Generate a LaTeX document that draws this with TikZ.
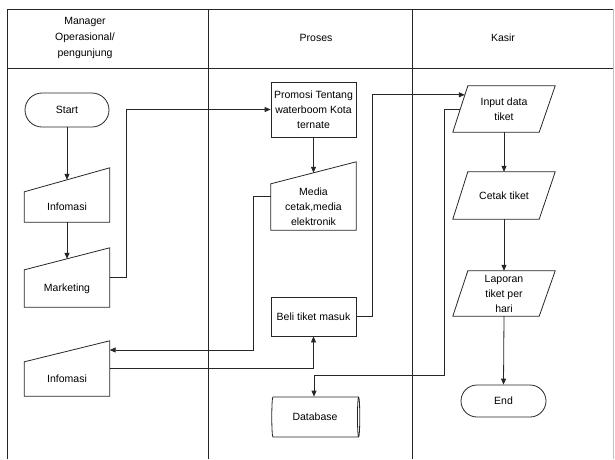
\documentclass[tikz,border=0pt]{standalone}
\usepackage{fontspec}
\setmainfont{Liberation Sans}
\usetikzlibrary{shapes.geometric,shapes.misc,calc,arrows.meta}
\begin{document}
\begin{tikzpicture}[x=1pt,y=-1pt,
  font=\fontsize{10.5}{15}\selectfont,
  ln/.style={line width=0.8pt,draw=black!85},
  arr/.style={ln,-{Triangle[length=6pt,width=5pt]}},
  term/.style={rounded rectangle,ln,minimum width=84pt,minimum height=34pt,inner sep=0pt},
  box/.style={rectangle,ln,minimum width=85pt,inner sep=0pt,align=center},
  mibox/.style={rectangle,minimum width=85pt,inner sep=0pt,align=center},
  pgbox/.style={rectangle,minimum width=102pt,inner sep=0pt,align=center},
]
\useasboundingbox (0,0) rectangle (615,459);
% swimlane frame
\draw[ln] (7,459) -- (7,9) -- (613,9);
\draw[ln] (7,68) -- (613,68);
\draw[ln] (208,9) -- (208,459);
\draw[ln] (412,9) -- (412,459);
\draw[line width=0.8pt,black!25] (613,9) -- (613,459);
% headers
\node[align=center,font=\fontsize{10.5}{16}\selectfont] (h1) at (85,38) {Manager\\Operasional/\\pengunjung};
\node (h2) at (316,38) {Proses};
\node (h3) at (503,38) {Kasir};
% nodes
\node[term] (start) at (67,110) {Start};
\node[mibox,minimum height=30pt] (inf1) at (67,207) {Infomasi};
\node[mibox,minimum height=37pt] (mkt) at (67,288.5) {Marketing};
\node[mibox,minimum height=34pt] (inf2) at (67,379) {Infomasi};
\node[box,minimum height=55pt] (prom) at (313.5,109.5) {Promosi Tentang\\waterboom Kota\\ternate};
\node[mibox,minimum height=46pt] (media) at (313.5,207) {Media\\cetak,media\\elektronik};
\node[box,minimum height=39pt] (beli) at (313.5,316.5) {Beli tiket masuk};
\node[cylinder,ln,aspect=0.3,minimum width=40pt,minimum height=88pt,inner sep=0pt] (db) at (315,417) {Database};
\node[pgbox,minimum height=46pt] (inp) at (504,109) {Input data\\tiket};
\node[pgbox,minimum height=47pt] (cetak) at (504,195.5) {Cetak tiket};
\node[pgbox,minimum height=45pt] (lap) at (504,293.5) {Laporan\\tiket per\\hari};
\node[term,minimum width=85pt,minimum height=32pt] (end) at (503.5,401) {End};
% manual input outlines
\draw[ln] (inf1.north west) -- ($(inf1.north east)+(0,-24)$) -- (inf1.south east) -- (inf1.south west) -- cycle;
\draw[ln] (mkt.north west) -- ($(mkt.north east)+(0,-22)$) -- (mkt.south east) -- (mkt.south west) -- cycle;
\draw[ln] (inf2.north west) -- ($(inf2.north east)+(0,-21)$) -- (inf2.south east) -- (inf2.south west) -- cycle;
\draw[ln] (media.north west) -- ($(media.north east)+(0,-22)$) -- (media.south east) -- (media.south west) -- cycle;
% parallelogram outlines
\foreach \n in {inp,cetak,lap}{
  \draw[ln] ($(\n.north west)+(15,0)$) -- (\n.north east) -- ($(\n.south east)+(-16,0)$) -- (\n.south west) -- cycle;
}
% connectors
\draw[arr] (start.south) -- ($(inf1.north)+(0,-12)$);
\draw[arr] (inf1.south) -- ($(mkt.north)+(0,-11)$);
\draw[arr] ($(mkt.east)+(0,-11.5)$) -- ++(17,0) |- (prom.west);
\draw[arr] (prom.south) -- ($(media.north)+(0,-11)$);
\draw[arr] ($(media.west)+(0,-11)$) -- ++(-17,0) |- ($(inf2.east)+(0,-29)$);
\draw[arr] ($(inf2.east)+(0,-11)$) -| (beli.south);
\draw[arr] (beli.east) -- ++(16,0) |- ($(inp.north west)+(12,9)$);
\draw[arr] ($(inp.west)+(7.5,0)$) -- ++(-15.5,0) |- ($(db.north)+(-1,-21)$) -- ($(db.north)+(-1,0)$);
\draw[arr] (inp.south) -- (cetak.north);
\draw[arr] (cetak.south) -- (lap.north);
\draw[arr] (lap.south) -- (end.north);
\end{tikzpicture}
\end{document}
